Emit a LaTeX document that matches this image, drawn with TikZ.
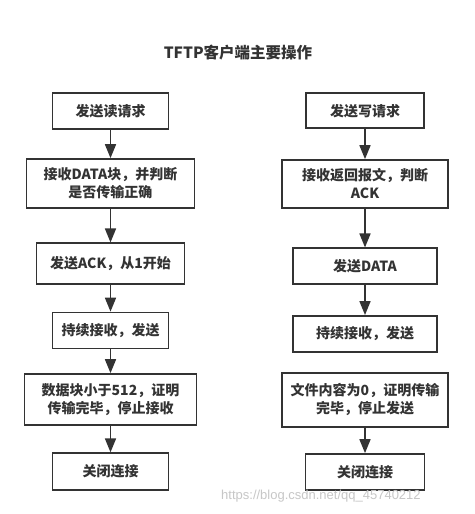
\documentclass[tikz,border=0pt]{standalone}
\usepackage{fontspec}
\usetikzlibrary{arrows.meta}
\newfontfamily\cjk{Noto Sans CJK SC}
\newfontfamily\wmfont{Liberation Sans}
\definecolor{ink}{HTML}{333333}
\tikzset{
  box/.style={draw=ink, line width=1.7pt, fill=white, inner sep=0pt, align=center,
    text=ink, font=\cjk\bfseries\fontsize{14}{18}\selectfont},
  arr/.style={draw=ink, line width=1.7pt, -{Triangle[length=14pt,width=11pt]}}
}
\begin{document}
\begin{tikzpicture}[x=1pt,y=-1pt]
\useasboundingbox[fill=white] (0,0) rectangle (474,514);
\node[text=ink, font=\cjk\bfseries\fontsize{15.5}{18}\selectfont] (title) at (238,53) {TFTP客户端主要操作};
% left column
\node[box, minimum width=116pt, minimum height=36pt] (L1) at (110.5,111.3) {发送读请求};
\node[box, minimum width=168pt, minimum height=49pt] (L2) at (110.5,183.5) {接收DATA块，并判断\\是否传输正确};
\node[box, minimum width=148pt, minimum height=41pt] (L3) at (110.5,263.8) {发送ACK，从1开始};
\node[box, minimum width=116pt, minimum height=36pt] (L4) at (110.5,330.5) {持续接收，发送};
\node[box, minimum width=172pt, minimum height=51pt] (L5) at (110.5,399.5) {数据块小于512，证明\\传输完毕，停止接收};
\node[box, minimum width=116pt, minimum height=37pt] (L6) at (110.5,471.7) {关闭连接};
% right column
\node[box, minimum width=118pt, minimum height=35pt] (R1) at (365,110.8) {发送写请求};
\node[box, minimum width=166pt, minimum height=48pt] (R2) at (365,184) {接收返回报文，判断\\ACK};
\node[box, minimum width=144pt, minimum height=36pt] (R3) at (365,266.3) {发送DATA};
\node[box, minimum width=144pt, minimum height=36pt] (R4) at (365,333.9) {持续接收，发送};
\node[box, minimum width=166pt, minimum height=54pt] (R5) at (365,399.7) {文件内容为0，证明传输\\完毕，停止发送};
\node[box, minimum width=119pt, minimum height=36pt] (R6) at (365,472) {关闭连接};
% arrows
\draw[arr] (L1) -- (L2);
\draw[arr] (L2) -- (L3);
\draw[arr] (L3) -- (L4);
\draw[arr] (L4) -- (L5);
\draw[arr] (L5) -- (L6);
\draw[arr] (R1) -- (R2);
\draw[arr] (R2) -- (R3);
\draw[arr] (R3) -- (R4);
\draw[arr] (R5) -- (R6);
% watermark
\node[anchor=west, inner sep=0pt, text=black!22, font=\wmfont\fontsize{13}{15}\selectfont] (wm) at (221,496) {https://blog.csdn.net/qq\_45740212};
\end{tikzpicture}
\end{document}
